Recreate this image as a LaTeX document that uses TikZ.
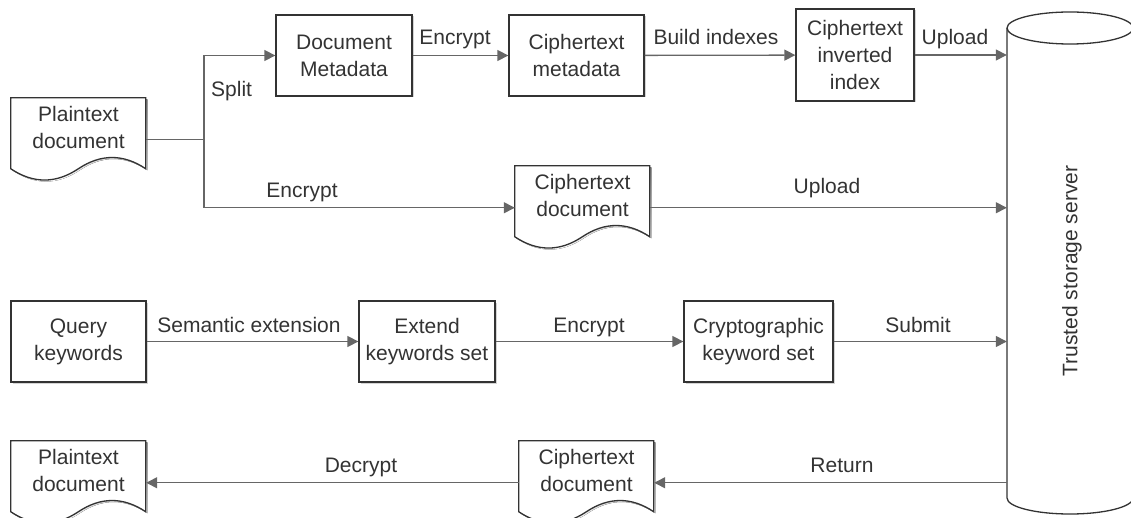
\documentclass[tikz,border=0pt]{standalone}
\usepackage{fontspec}
\setmainfont{Liberation Sans}
\usetikzlibrary{arrows.meta,shadows,calc}
\definecolor{ink}{HTML}{333333}
\definecolor{wirecol}{HTML}{666666}
\definecolor{shade}{HTML}{D4D4D4}
\pgfdeclarelayer{background}
\pgfsetlayers{background,main}

% Outline of a "document" sheet (flat top, wavy bottom), placed at the node's north-west corner
\newcommand\paperoutline[1]{%
  \begin{pgfonlayer}{background}
    \fill[shade, shift={($(#1.north west)+(1.5,1.5)$)}]
      (0,0) -- (135,0) -- (135,70.975)
      .. controls (112.5,55.945) and (90,55.945) .. (67.5,70.975)
      .. controls (45,86.005) and (22.5,86.005) .. (0,70.975) -- cycle;
    \filldraw[draw=ink, fill=white, line width=1.3pt, shift={(#1.north west)}]
      (0,0) -- (135,0) -- (135,70.975)
      .. controls (112.5,55.945) and (90,55.945) .. (67.5,70.975)
      .. controls (45,86.005) and (22.5,86.005) .. (0,70.975) -- cycle;
  \end{pgfonlayer}}

\begin{document}
\begin{tikzpicture}[x=1pt, y=-1pt,
  font=\fontsize{21}{27}\selectfont, text=ink,
  box/.style={draw=ink, line width=1.3pt, fill=white, align=center, inner sep=0pt,
    drop shadow={shadow xshift=1.5pt, shadow yshift=-1.5pt, fill=shade, opacity=1}},
  paper/.style={inner sep=0pt, minimum width=135pt, minimum height=83.5pt},
  papertext/.style={align=center, yshift=12pt, inner sep=0pt},
  wire/.style={draw=wirecol, line width=1.3pt},
  flow/.style={wire, -{Triangle[length=11pt, width=11pt]}},
  lab/.style={inner sep=0pt, anchor=base},
]
\useasboundingbox (0,0) rectangle (1131,518);

% ---- storage server (cylinder) ----
\node[inner sep=0pt, minimum width=126pt, minimum height=470pt] (srv) at (1070,263) {};
\filldraw[draw=ink, fill=white, line width=1.3pt]
  (1007,28) -- (1007,498) arc[start angle=180, end angle=0, x radius=63, y radius=16]
  -- (1133,28) arc[start angle=0, end angle=-180, x radius=63, y radius=16] -- cycle;
\draw[ink, line width=1.3pt] (1007,28) arc[start angle=180, end angle=0, x radius=63, y radius=16];
\node[rotate=90, inner sep=0pt] (srvname) at (1072,271) {Trusted storage server};

% ---- upload path ----
\node[paper, label={[papertext]center:Plaintext\\document}] (pt1) at (78.5,139.75) {};
\paperoutline{pt1}
\node[box, minimum width=136pt, minimum height=81pt] (dm) at (344,55.5) {Document\\Metadata};
\node[box, minimum width=135pt, minimum height=81pt] (cm) at (576.5,55.5) {Ciphertext\\metadata};
\node[box, minimum width=118pt, minimum height=92pt] (cii) at (855,55) {Ciphertext\\inverted\\index};
\node[paper, label={[papertext]center:Ciphertext\\document}] (cd1) at (582.5,207.75) {};
\paperoutline{cd1}

\coordinate (split) at (204,139.75);
\draw[wire] (pt1.east) -- (split);
\draw[flow] (split) |- (dm.west);
\draw[flow] (split) |- (cd1.west);
\draw[flow] (dm) -- (cm);
\draw[flow] (cm) -- (cii);
\draw[flow] (cii.east) -- (cii.east -| srv.west);
\draw[flow] (cd1.east) -- (cd1.east -| srv.west);

\node[lab, anchor=base west] (lsplit) at (211,96.7) {Split};
\node[lab] (lenc1) at (455,45) {Encrypt};
\node[lab] (lbuild) at (716,45) {Build indexes};
\node[lab] (lup1) at (955,45) {Upload};
\node[lab] (lenc2) at (302,198) {Encrypt};
\node[lab] (lup2) at (827,194) {Upload};

% ---- query path ----
\node[box, minimum width=135pt, minimum height=81pt] (qk) at (78.5,341.5) {Query\\keywords};
\node[box, minimum width=136pt, minimum height=81pt] (eks) at (427,341.5) {Extend\\keywords set};
\node[box, minimum width=149pt, minimum height=81pt] (cks) at (758.5,341.5) {Cryptographic\\keyword set};

\draw[flow] (qk) -- (eks);
\draw[flow] (eks) -- (cks);
\draw[flow] (cks.east) -- (cks.east -| srv.west);

\node[lab] (lsem) at (249,332) {Semantic extension};
\node[lab] (lenc3) at (589,332) {Encrypt};
\node[lab] (lsub) at (918,332) {Submit};

% ---- retrieval path ----
\node[paper, label={[papertext]center:Ciphertext\\document}] (cd2) at (586.5,482.75) {};
\paperoutline{cd2}
\node[paper, label={[papertext]center:Plaintext\\document}] (pt2) at (78.5,482.75) {};
\paperoutline{pt2}

\draw[flow] (cd2.east -| srv.west) -- (cd2.east);
\draw[flow] (cd2.west) -- (pt2.east);

\node[lab] (lret) at (842,472.3) {Return};
\node[lab] (ldec) at (361,472.3) {Decrypt};
\end{tikzpicture}
\end{document}
